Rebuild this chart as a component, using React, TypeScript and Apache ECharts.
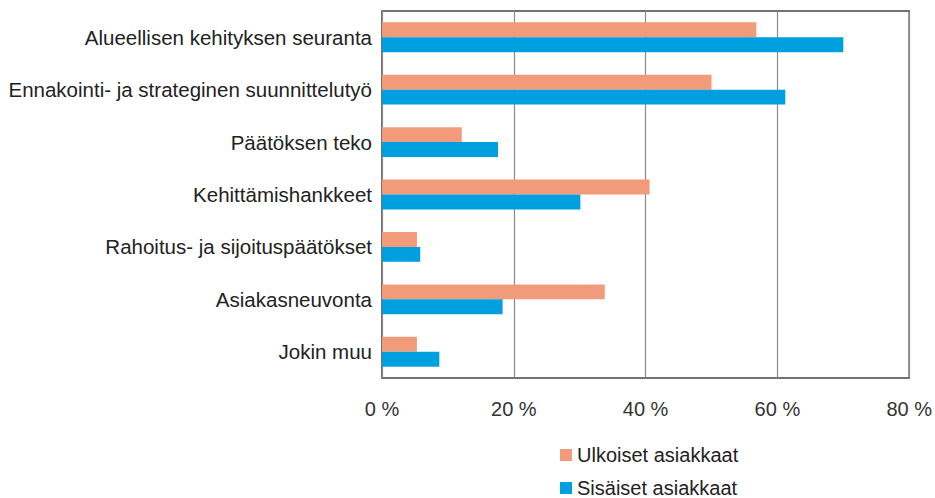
import React, { useEffect, useRef } from "react";
import * as echarts from "echarts";

const categories = [
  "Alueellisen kehityksen seuranta",
  "Ennakointi- ja strateginen suunnittelutyö",
  "Päätöksen teko",
  "Kehittämishankkeet",
  "Rahoitus- ja sijoituspäätökset",
  "Asiakasneuvonta",
  "Jokin muu",
];
const ulkoiset = [56.8, 50.0, 12.1, 40.6, 5.3, 33.8, 5.3];
const sisaiset = [70.0, 61.2, 17.6, 30.1, 5.8, 18.3, 8.7];
const seriesNames = ["Ulkoiset asiakkaat", "Sisäiset asiakkaat"];
const xTicks = { min: 0, max: 80, interval: 20 };

const FONT = "Liberation Sans";

export default function App() {
  const ref = useRef<HTMLDivElement>(null);
  useEffect(() => {
    if (!ref.current) return;
    const chart = echarts.init(ref.current, undefined, { renderer: "svg" });
    const legendCommon = {
      orient: "vertical",
      left: 560,
      padding: 0,
      itemWidth: 12,
      itemHeight: 12,
      itemTextGap: 5,
      icon: "rect",
      textStyle: { fontFamily: FONT, fontSize: 20, color: "#222" },
    };
    chart.setOption({
      animation: false,
      backgroundColor: "#ffffff",
      textStyle: { fontFamily: FONT },
      grid: {
        left: 382,
        right: 25,
        top: 11,
        bottom: 120,
        show: true,
        borderColor: "#444",
        borderWidth: 1.5,
        backgroundColor: "transparent",
      },
      legend: [
        { ...legendCommon, top: 445, data: [seriesNames[0]] },
        { ...legendCommon, top: 478, data: [seriesNames[1]] },
      ],
      xAxis: {
        type: "value",
        min: xTicks.min,
        max: xTicks.max,
        interval: xTicks.interval,
        axisLine: { show: false },
        axisTick: { show: false },
        splitLine: { show: true, lineStyle: { color: "#8a8a8a", width: 1.2 } },
        axisLabel: {
          formatter: (v: number) => `${v} %`,
          fontFamily: FONT,
          fontSize: 20,
          color: "#333",
          margin: 21,
        },
      },
      yAxis: {
        type: "category",
        data: categories,
        inverse: true,
        axisLine: { show: false },
        axisTick: { show: false },
        splitLine: { show: false },
        axisLabel: {
          fontFamily: FONT,
          fontSize: 20.5,
          color: "#222",
          margin: 10,
          padding: [6, 0, 0, 0],
        },
      },
      series: [
        {
          name: seriesNames[0],
          type: "bar",
          data: ulkoiset,
          barGap: "0%",
          barCategoryGap: "43%",
          itemStyle: { color: "#F29B7B" },
        },
        {
          name: seriesNames[1],
          type: "bar",
          data: sisaiset,
          barGap: "0%",
          barCategoryGap: "43%",
          itemStyle: { color: "#009FDF" },
        },
      ],
    });
    return () => chart.dispose();
  }, []);
  return <div ref={ref} style={{ width: 935, height: 498, position: "absolute", left: 0, top: 0 }} />;
}
